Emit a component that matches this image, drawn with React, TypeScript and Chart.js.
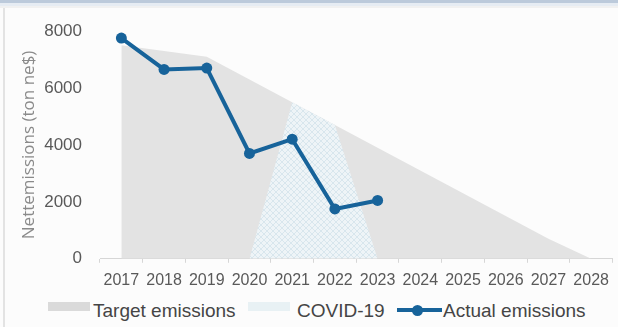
import React, { useEffect, useRef } from "react";
import { Chart, registerables } from "chart.js";

Chart.register(...registerables);

const years = ["2017", "2018", "2019", "2020", "2021", "2022", "2023", "2024", "2025", "2026", "2027", "2028"];
const targetEmissions = [7500, 7300, 7100, 6300, 5500, 4700, 3900, 3100, 2300, 1500, 700, 0];
const covidPeriod = [null, null, null, 0, 5500, 4700, 0, null, null, null, null, null];
const actualEmissions = [7750, 6650, 6700, 3700, 4200, 1750, 2050, null, null, null, null, null];
const yTicks = [0, 2000, 4000, 6000, 8000];

const BLUE = "#17639a";
const GREY_FILL = "#e3e3e3";
const TICK_COLOR = "#595959";

function makePattern(): CanvasPattern | string {
  const c = document.createElement("canvas");
  c.width = 6;
  c.height = 6;
  const ctx = c.getContext("2d");
  if (!ctx) return "#e6eff3";
  ctx.fillStyle = "#eef4f7";
  ctx.fillRect(0, 0, 6, 6);
  ctx.strokeStyle = "#d8e6ed";
  ctx.lineWidth = 1;
  ctx.beginPath();
  ctx.moveTo(0, 0);
  ctx.lineTo(6, 6);
  ctx.moveTo(6, 0);
  ctx.lineTo(0, 6);
  ctx.stroke();
  const p = ctx.createPattern(c, "repeat");
  return p || "#e6eff3";
}

export default function App() {
  const ref = useRef<HTMLCanvasElement | null>(null);

  useEffect(() => {
    if (!ref.current) return;
    const pattern = makePattern();
    const chart = new Chart(ref.current, {
      type: "line",
      data: {
        labels: years,
        datasets: [
          {
            label: "Actual emissions",
            data: actualEmissions,
            borderColor: BLUE,
            backgroundColor: BLUE,
            borderWidth: 4,
            pointRadius: 5.5,
            pointBackgroundColor: BLUE,
            pointBorderWidth: 0,
            fill: false,
            tension: 0,
            order: 1,
          },
          {
            label: "COVID-19",
            data: covidPeriod,
            borderWidth: 0,
            borderColor: "rgba(0,0,0,0)",
            backgroundColor: pattern as any,
            pointRadius: 0,
            fill: "origin",
            tension: 0,
            spanGaps: false,
            order: 2,
          },
          {
            label: "Target emissions",
            data: targetEmissions,
            borderWidth: 0,
            borderColor: "rgba(0,0,0,0)",
            backgroundColor: GREY_FILL,
            pointRadius: 0,
            fill: "origin",
            tension: 0,
            order: 3,
          },
        ],
      },
      options: {
        animation: false,
        responsive: true,
        maintainAspectRatio: false,
        layout: { padding: { top: 31, left: 0, right: 0, bottom: 0 } },
        plugins: {
          legend: { display: false },
          tooltip: { enabled: false },
        },
        scales: {
          x: {
            offset: true,
            grid: {
              display: true,
              drawOnChartArea: false,
              offset: true,
              tickLength: 4,
              color: "#d6d6d6",
            },
            border: { display: true, color: "#d6d6d6" },
            ticks: {
              autoSkip: false,
              maxRotation: 0,
              minRotation: 0,
              padding: 8,
              color: TICK_COLOR,
              font: { family: "'Liberation Sans', Arial", size: 16 },
            },
          },
          y: {
            min: 0,
            max: 8000,
            afterFit: (scale: any) => {
              scale.width = 100;
            },
            afterBuildTicks: (scale: any) => {
              scale.ticks = yTicks.map((v) => ({ value: v }));
            },
            grid: { display: false, drawTicks: false },
            border: { display: false },
            ticks: {
              padding: 18,
              color: TICK_COLOR,
              font: { family: "'Liberation Sans', Arial", size: 17 },
              callback: (v: any) => String(v),
            },
            title: {
              display: true,
              text: "Nettemissions (ton ne$)",
              color: "#8a8a8a",
              padding: { top: 19, bottom: 0 },
              font: { family: "'Open Sans', 'Liberation Sans'", size: 17 },
            },
          },
        },
      },
    });
    return () => chart.destroy();
  }, []);

  const legendText: React.CSSProperties = {
    position: "absolute",
    top: 300,
    fontFamily: "'Liberation Sans', Arial, sans-serif",
    fontSize: 19,
    lineHeight: "22px",
    color: "#454545",
    whiteSpace: "nowrap",
  };

  return (
    <div
      style={{
        position: "absolute",
        left: 0,
        top: 0,
        width: 618,
        height: 327,
        overflow: "hidden",
        background: "#fcfcfc",
      }}
    >
      <div style={{ position: "absolute", left: 0, top: 0, width: 618, height: 3, background: "#bccadb" }} />
      <div style={{ position: "absolute", left: 0, top: 3, width: 618, height: 3, background: "#e6ecf3" }} />
      <div style={{ position: "absolute", left: 0, top: 6, width: 618, height: 2, background: "#f1f1f1" }} />
      <div style={{ position: "absolute", left: 3, top: 8, width: 2, height: 319, background: "#e3e3e3" }} />
      <div style={{ position: "absolute", left: 0, top: 0, width: 618, height: 298 }}>
        <canvas ref={ref} />
      </div>
      <div style={{ position: "absolute", left: 48, top: 302, width: 42, height: 9, background: "#dadada" }} />
      <div style={{ ...legendText, left: 93 }}>Target emissions</div>
      <div style={{ position: "absolute", left: 248, top: 302, width: 42, height: 9, background: "#e8f1f4" }} />
      <div style={{ ...legendText, left: 297 }}>COVID-19</div>
      <div style={{ position: "absolute", left: 397, top: 308, width: 45, height: 4, background: BLUE }} />
      <div
        style={{
          position: "absolute",
          left: 412,
          top: 305,
          width: 11,
          height: 11,
          borderRadius: "50%",
          background: BLUE,
        }}
      />
      <div style={{ ...legendText, left: 443 }}>Actual emissions</div>
    </div>
  );
}
